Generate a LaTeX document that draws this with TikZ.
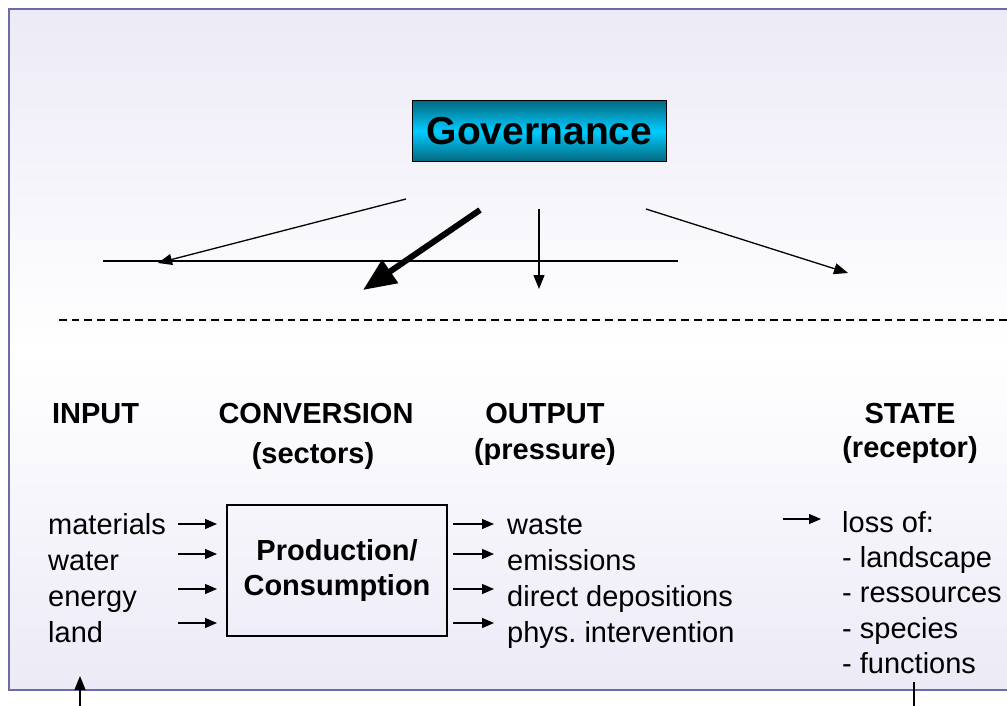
\documentclass[tikz,border=0pt]{standalone}
\usepackage{fontspec}
\setmainfont{Liberation Sans}
\usetikzlibrary{arrows.meta}
\definecolor{framefill}{HTML}{ECEAF6}
\definecolor{frameline}{HTML}{6C6CA4}
\definecolor{govdark}{HTML}{05687F}
\definecolor{govlight}{HTML}{00CCFF}
\begin{document}
\frenchspacing
\begin{tikzpicture}[x=1pt,y=-1pt,
  txt/.style={font=\fontsize{29}{35}\selectfont, inner sep=0pt, anchor=base west},
  head/.style={font=\fontsize{29}{35}\selectfont\bfseries, inner sep=0pt, anchor=base},
  gov/.style={draw=black, line width=1.5pt, minimum width=254pt, minimum height=61pt,
    top color=govdark, bottom color=govdark, middle color=govlight,
    font=\fontsize{39}{39}\selectfont\bfseries, inner sep=0pt},
  procbox/.style={draw=black, line width=1.3pt, minimum width=220pt, minimum height=131pt,
    align=center, font=\fontsize{29}{35}\selectfont\bfseries, inner sep=0pt},
  flow/.style={line width=1.3pt, -{Triangle[length=12pt,width=10pt]}},
  govarrow/.style={line width=1.3pt, -{Triangle[length=14pt,width=11pt]}},
  bigarrow/.style={line width=6pt, -{Triangle[length=33pt,width=27pt]}},
]
\useasboundingbox (0,0) rectangle (1007,706);

% background frame
\begin{scope}
  \clip (0,0) rectangle (1007,706);
  \shade[top color=framefill, bottom color=framefill, middle color=white] (9,9) rectangle (1030,690);
  \draw[frameline, line width=2pt] (9,9) rectangle (1030,690);
\end{scope}

% governance block
\node[gov] (gov) at (539.5,131) {Governance};

\coordinate (ga) at (406,199);  \coordinate (gat) at (158,263);
\coordinate (gb) at (480,210);  \coordinate (gbt) at (363,290);
\coordinate (gc) at (539,209);  \coordinate (gct) at (539,289);
\coordinate (gd) at (646,209);  \coordinate (gdt) at (848,273);
\coordinate (hl) at (103,261);  \coordinate (hr) at (678,261);
\coordinate (dl) at (59,320);   \coordinate (dr) at (1007,320);

\draw[line width=1.8pt] (hl) -- (hr);
\draw[govarrow] (ga) -- (gat);
\draw[bigarrow] (gb) -- (gbt);
\draw[govarrow] (gc) -- (gct);
\draw[govarrow] (gd) -- (gdt);
\draw[line width=2pt, dash pattern=on 7.7pt off 5pt] (dl) -- (dr);

% column headings
\node[head] (hin) at (95.5,423) {INPUT};
\node[head] (hconv) at (316,423) {CONVERSION};
\node[head] (hsec) at (313,463) {(sectors)};
\node[head] (hout) at (545,423) {OUTPUT};
\node[head] (hpre) at (545,459) {(pressure)};
\node[head] (hst) at (910,423) {STATE};
\node[head] (hrec) at (910,457) {(receptor)};

% inputs
\node[txt] (mat) at (48,534) {materials};
\node[txt] (wat) at (48,570) {water};
\node[txt] (ene) at (48,606) {energy};
\node[txt] (lan) at (48,642) {land};

% conversion box
\node[procbox] (proc) at (337,570.5) {Production/\\Consumption};

% outputs
\node[txt] (was) at (507,534) {waste};
\node[txt] (emi) at (507,570) {emissions};
\node[txt] (dep) at (507,606) {direct depositions};
\node[txt] (phy) at (507,642) {phys. intervention};

% state
\node[txt] (loss) at (842,532) {loss of:};
\node[txt] (s1) at (842,567) {- landscape};
\node[txt] (s2) at (842,602) {- ressources};
\node[txt] (s3) at (842,638) {- species};
\node[txt] (s4) at (842,673) {- functions};

% flow arrows into and out of the box
\foreach \y [count=\i] in {524,554,589,623} {
  \coordinate (in\i) at (178,\y);  \coordinate (int\i) at (217,\y);
  \coordinate (out\i) at (453,\y); \coordinate (outt\i) at (494,\y);
  \draw[flow] (in\i) -- (int\i);
  \draw[flow] (out\i) -- (outt\i);
}
\coordinate (sa) at (783,519); \coordinate (sat) at (821,519);
\draw[flow] (sa) -- (sat);

% links leaving the frame at the bottom
\coordinate (ba) at (80,706);  \coordinate (bat) at (80,676);
\draw[govarrow] (ba) -- (bat);
\coordinate (bb) at (914,682); \coordinate (bbt) at (914,706);
\draw[line width=1.3pt] (bb) -- (bbt);
\end{tikzpicture}
\end{document}
